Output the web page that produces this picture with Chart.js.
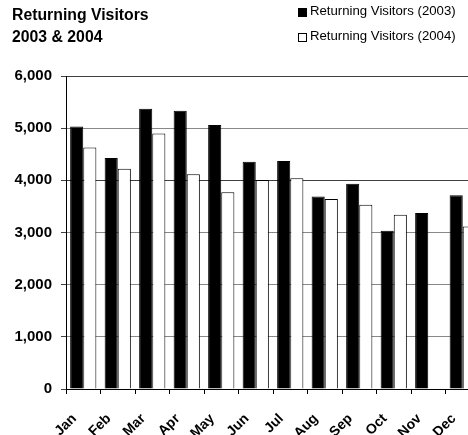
<!DOCTYPE html>
<html>
<head>
<meta charset="utf-8">
<script src="https://cdn.jsdelivr.net/npm/chart.js@4"></script>
<style>
  body { margin: 0; background: #fff; font-family: "Liberation Sans", Arial, sans-serif; }
  #wrap { position: relative; width: 468px; height: 435px; overflow: hidden; }
  #chartBox { position: absolute; left: 0; top: 0; width: 480px; height: 435px; }
  .title { position: absolute; left: 12px; top: 4px; font-weight: bold; font-size: 15.8px; line-height: 22px; color: #000; }
  .leg { position: absolute; left: 310px; font-size: 13.2px; line-height: 13px; color: #000; white-space: nowrap; }
  .sq { position: absolute; left: 298px; width: 9px; height: 9px; box-sizing: border-box; border: 1px solid #000; }
</style>
</head>
<body>
<div id="wrap">
  <div id="chartBox"><canvas id="visitorsChart"></canvas></div>
  <div class="title">Returning Visitors<br>2003 &amp; 2004</div>
  <div class="sq" style="top:8px;background:#000"></div>
  <div class="leg" id="leg1" style="top:4px"></div>
  <div class="sq" style="top:33px;background:#fff"></div>
  <div class="leg" id="leg2" style="top:29px"></div>
</div>
<script>
// Datos
const months = ['Jan', 'Feb', 'Mar', 'Apr', 'May', 'Jun', 'Jul', 'Aug', 'Sep', 'Oct', 'Nov', 'Dec'];
const seriesNames = ['Returning Visitors (2003)', 'Returning Visitors (2004)'];
const visitors2003 = [5030, 4430, 5370, 5335, 5060, 4355, 4370, 3690, 3935, 3035, 3375, 3715];
const visitors2004 = [4630, 4220, 4900, 4115, 3770, 4005, 4040, 3640, 3530, 3340, null, 3115];
const yTicks = [0, 1000, 2000, 3000, 4000, 5000, 6000];

document.getElementById('leg1').textContent = seriesNames[0];
document.getElementById('leg2').textContent = seriesNames[1];

const font = '"Liberation Sans", Arial, sans-serif';

// Etiquetas del eje X giradas, dibujadas a mano para controlar su posicion
const monthLabels = {
    id: 'monthLabels',
    afterDraw(chart) {
        const scale = chart.scales.x;
        const c = chart.ctx;
        c.save();
        c.font = 'bold 14px ' + font;
        c.fillStyle = '#000';
        c.textAlign = 'right';
        c.textBaseline = 'middle';
        scale.ticks.forEach((t, i) => {
            c.save();
            c.translate(scale.getPixelForTick(i) - 9, scale.top + 27.5);
            c.rotate(-Math.PI / 4);
            c.fillText(scale.getLabelForValue(t.value), 0, 0);
            c.restore();
        });
        c.restore();
    }
};

const ctx = document.getElementById('visitorsChart').getContext('2d');
new Chart(ctx, {
    type: 'bar',
    data: {
        labels: months,
        datasets: [{
            label: seriesNames[0],
            data: visitors2003,
            backgroundColor: '#000000',
            borderColor: '#000000',
            borderWidth: 1
        }, {
            label: seriesNames[1],
            data: visitors2004,
            backgroundColor: '#ffffff',
            borderColor: '#000000',
            borderWidth: 1
        }]
    },
    plugins: [monthLabels],
    options: {
        responsive: true,
        maintainAspectRatio: false,
        animation: false,
        categoryPercentage: 0.76,
        barPercentage: 1.0,
        layout: {
            padding: { top: 76, right: 0, left: 0, bottom: 0 }
        },
        plugins: {
            legend: { display: false },
            title: { display: false },
            tooltip: { enabled: false }
        },
        scales: {
            x: {
                afterFit: scale => { scale.height = 46; },
                grid: {
                    drawOnChartArea: false,
                    drawTicks: true,
                    tickLength: 5,
                    color: '#000000'
                },
                border: { display: true, color: '#000000', width: 1 },
                ticks: { display: false }
            },
            y: {
                min: 0,
                max: 6000,
                afterFit: scale => { scale.width = 66; },
                afterBuildTicks: scale => {
                    scale.ticks = yTicks.map(v => ({ value: v }));
                },
                grid: {
                    color: c => (c.tick && (c.tick.value === 6000 || c.tick.value === 4000)) ? '#404040' : '#888888',
                    tickColor: '#404040',
                    tickLength: 5,
                    lineWidth: 1
                },
                border: { display: true, color: '#000000', width: 1 },
                ticks: {
                    color: '#000000',
                    padding: 9,
                    font: { family: font, size: 15, weight: 'bold' },
                    callback: v => v.toLocaleString('en-US')
                }
            }
        }
    }
});
</script>
</body>
</html>
